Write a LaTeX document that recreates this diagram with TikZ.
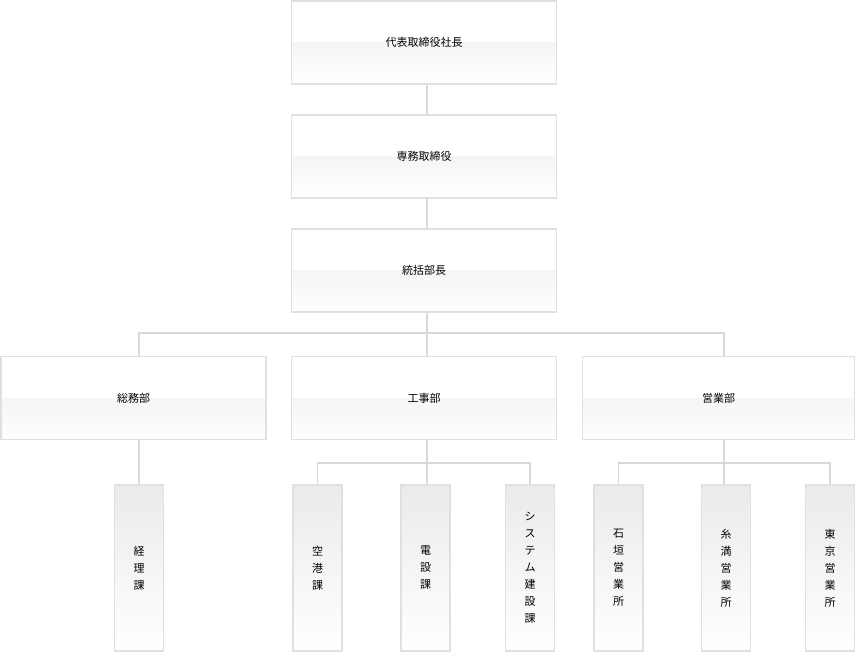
\documentclass[tikz,border=0pt]{standalone}
\usepackage{fontspec}
\setmainfont{Noto Sans CJK JP}
\tikzset{
	wide/.style={draw=black!12, line width=1.5pt, minimum width=265pt, minimum height=83pt, inner sep=0pt, font=\fontsize{11}{13}\selectfont, fill=white,
		path picture={\shade[top color=black!8, bottom color=white] (path picture bounding box.west) rectangle (path picture bounding box.south east);}},
	tall/.style={draw=black!12, line width=1.5pt, minimum width=49pt, minimum height=166pt, inner sep=0pt, align=center, font=\fontsize{11}{17}\selectfont, top color=black!8, bottom color=white},
	link/.style={draw=black!15, line width=1.5pt}
}
\begin{document}
\begin{tikzpicture}[x=1pt, y=-1pt]
	\useasboundingbox (0, 0) rectangle (856, 652);

	% wide boxes
	\node[wide] (ceo) at (424, 42.5) {代表取締役社長};
	\node[wide] (exec) at (424, 156.5) {専務取締役};
	\node[wide] (gm) at (424, 270.5) {統括部長};
	\node[wide] (soumu) at (133.5, 398) {総務部};
	\node[wide] (kouji) at (424, 398) {工事部};
	\node[wide, minimum width=272pt] (eigyo) at (718.5, 398) {営業部};

	% tall boxes
	\node[tall] (keiri) at (139, 568) {経\\理\\課};
	\node[tall] (kuukou) at (317.5, 568) {空\\港\\課};
	\node[tall] (densetsu) at (425.5, 568) {電\\設\\課};
	\node[tall] (system) at (530, 568) {シ\\ス\\テ\\ム\\建\\設\\課};
	\node[tall] (ishigaki) at (618.5, 568) {石\\垣\\営\\業\\所};
	\node[tall] (itoman) at (726, 568) {糸\\満\\営\\業\\所};
	\node[tall] (tokyo) at (830, 568) {東\\京\\営\\業\\所};

	% connectors
	\coordinate (b1) at (427, 333);
	\coordinate (b2) at (427, 463);
	\coordinate (b3) at (724, 463);
	\draw[link] (ceo.south -| b1) -- (exec.north -| b1);
	\draw[link] (exec.south -| b1) -- (gm.north -| b1);
	\draw[link] (gm.south -| b1) -- (b1);
	\draw[link] (soumu.north -| keiri) |- (b1) -| (eigyo.north -| b3);
	\draw[link] (b1) -- (kouji.north -| b1);
	\draw[link] (soumu.south -| keiri) -- (keiri.north);
	\draw[link] (kouji.south -| b2) -- (b2);
	\draw[link] (kuukou.north) |- (b2) -| (system.north);
	\draw[link] (b2) -- (densetsu.north -| b2);
	\draw[link] (eigyo.south -| b3) -- (b3);
	\draw[link] (ishigaki.north) |- (b3) -| (tokyo.north);
	\draw[link] (b3) -- (itoman.north -| b3);
\end{tikzpicture}
\end{document}
